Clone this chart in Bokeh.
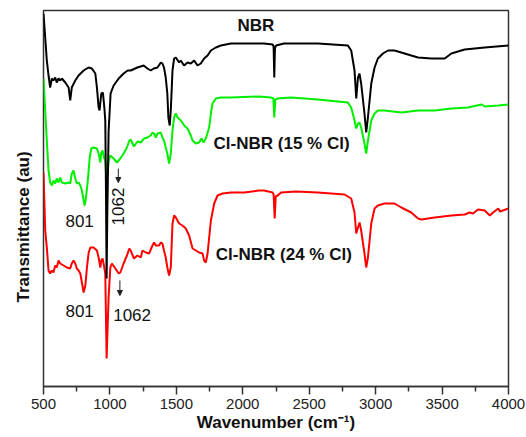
import math
from bokeh.plotting import figure
from bokeh.models import Range1d, FixedTicker, Label, Arrow, NormalHead, Title
from bokeh.embed import file_html
from bokeh.resources import INLINE

# ---- data (wavenumber in cm^-1, transmittance in arbitrary units) ----
nbr_wn = [500, 525, 538, 550, 563, 575, 588, 600, 613, 626, 638, 664, 689, 701, 713, 739, 764, 802, 839, 864,
          890, 902, 915, 922, 935, 947, 958, 965, 970, 975, 980, 990, 1005, 1028, 1066, 1103, 1134, 1156, 1207, 1254,
          1282, 1307, 1330, 1358, 1383, 1395, 1407, 1420, 1432, 1440, 1450, 1458, 1471, 1483, 1496, 1521, 1533, 1558,
          1584, 1609, 1634, 1659, 1684, 1709, 1735, 1760, 1797, 1835, 1911, 2037, 2160, 2225, 2232, 2237, 2242, 2250,
          2310, 2565, 2791, 2816, 2841, 2854, 2867, 2878, 2891, 2916, 2929, 2942, 2967, 2992, 3017, 3055, 3093, 3142,
          3193, 3268, 3319, 3419, 3520, 3570, 3670, 3821, 4000]
nbr_t = [373, 326, 311, 299, 308, 306, 309, 304, 308, 306, 308, 304, 299, 286, 299, 306, 311, 316, 319, 318,
         313, 299, 279, 276, 293, 294, 279, 266, 200, 108, 170, 255, 293, 301, 308, 313, 316, 316, 319, 321,
         318, 316, 318, 319, 324, 323, 319, 309, 293, 269, 261, 276, 316, 328, 329, 324, 326, 321,
         324, 323, 326, 321, 323, 328, 331, 336, 339, 341, 343, 343, 343, 342, 340, 309, 338, 341,
         343, 343, 341, 336, 316, 288, 309, 313, 303, 273, 254, 269, 303, 319, 328, 333, 336, 336,
         334, 331, 329, 328, 328, 333, 337, 339, 341]

cl15_wn = [500, 525, 538, 550, 563, 575, 588, 600, 613, 626, 638, 664, 689, 701, 713, 726, 739, 751, 764, 777,
           789, 802, 810, 820, 835, 848, 860, 877, 902, 915, 928, 935, 945, 955, 965, 975, 990, 1003, 1028, 1053,
           1078, 1103, 1128, 1146, 1156, 1181, 1207, 1232, 1257, 1282, 1307, 1320, 1332, 1345, 1358, 1383, 1395,
           1407, 1420, 1432, 1445, 1458, 1471, 1483, 1496, 1509, 1534, 1559, 1584, 1609, 1622, 1647, 1671, 1689,
           1705, 1722, 1747, 1760, 1772, 1797, 1835, 1911, 2122, 2212, 2230, 2237, 2245, 2263, 2363, 2565, 2791,
           2816, 2841, 2854, 2867, 2879, 2891, 2916, 2929, 2942, 2967, 2992, 3017, 3067, 3193, 3319, 3445, 3570,
           3696, 3797, 3822, 3923, 4000]
cl15_t = [308, 246, 216, 204, 201, 206, 203, 208, 204, 209, 204, 203, 204, 203, 213, 216, 208, 203, 204, 201,
          196, 186, 181, 189, 208, 229, 238, 239, 238, 233, 224, 234, 236, 229, 226, 205, 225, 231, 228, 224,
          228, 233, 239, 246, 247, 240, 245, 244, 248, 249, 251, 254, 253, 249, 253, 254, 249,
          246, 239, 233, 223, 233, 256, 269, 273, 269, 266, 261, 258, 251, 246, 243, 244, 248,
          244, 248, 259, 273, 283, 288, 289, 289, 290, 289, 288, 269, 287, 288, 289, 287, 284,
          279, 266, 258, 263, 264, 259, 243, 233, 246, 266, 273, 276, 276, 274, 276, 276, 278,
          279, 282, 280, 281, 282]

cl24_wn = [500, 513, 525, 538, 550, 563, 575, 588, 600, 613, 626, 651, 676, 701, 713, 726, 739, 751, 764, 777,
           789, 802, 815, 827, 840, 853, 877, 902, 915, 928, 935, 945, 955, 965, 975, 990, 1003, 1015, 1041, 1066,
           1078, 1103, 1128, 1146, 1156, 1181, 1207, 1232, 1245, 1270, 1295, 1320, 1332, 1345, 1370, 1383, 1395,
           1407, 1420, 1432, 1445, 1458, 1471, 1483, 1496, 1521, 1546, 1571, 1596, 1622, 1647, 1671, 1697, 1709,
           1722, 1735, 1747, 1760, 1785, 1810, 1848, 1911, 2011, 2122, 2160, 2225, 2232, 2240, 2248, 2263, 2288,
           2401, 2565, 2766, 2816, 2841, 2854, 2867, 2879, 2891, 2916, 2929, 2942, 2967, 2992, 3017, 3067, 3142,
           3193, 3268, 3319, 3344, 3445, 3570, 3670, 3708, 3733, 3771, 3821, 3859, 3884, 3923, 3935, 4000]
cl24_t = [214, 156, 139, 116, 113, 116, 114, 121, 119, 126, 123, 121, 119, 118, 123, 126, 123, 118, 116, 113,
          104, 94, 101, 119, 134, 139, 139, 136, 129, 119, 126, 128, 121, 113, 28, 89, 119, 123, 118, 113,
          114, 123, 131, 138, 136, 128, 131, 129, 136, 134, 133, 141, 144, 141, 141, 144, 143,
          136, 129, 119, 111, 119, 163, 171, 169, 163, 161, 158, 151, 138, 136, 134, 133, 126,
          124, 133, 149, 166, 183, 191, 193, 194, 194, 196, 196, 194, 192, 168, 190, 191, 194,
          195, 194, 192, 188, 174, 153, 159, 164, 156, 133, 119, 129, 163, 178, 181, 183, 183,
          179, 174, 168, 167, 169, 171, 172, 174, 173, 177, 176, 171, 174, 178, 175, 178]

x_ticks = [500, 1000, 1500, 2000, 2500, 3000, 3500, 4000]
x_minor = [750, 1250, 1750, 2250, 2750, 3250, 3750]

FONT = "Liberation Sans"

p = figure(width=526, height=437, output_backend="svg", toolbar_location=None,
           x_range=Range1d(500, 4000), y_range=Range1d(0, 376), y_axis_location=None,
           min_border_left=43, min_border_right=18, min_border_top=10, min_border_bottom=51)
p.background_fill_color = "white"
p.border_fill_color = "white"
p.xgrid.visible = False
p.ygrid.visible = False
p.outline_line_color = "#333333"
p.outline_line_width = 1.5
p.outline_line_alpha = 1.0

ax = p.xaxis[0]
ax.ticker = FixedTicker(ticks=x_ticks, minor_ticks=x_minor)
ax.axis_line_color = "#333333"
ax.axis_line_width = 1.5
ax.major_tick_line_color = "#333333"
ax.major_tick_line_width = 1.5
ax.minor_tick_line_color = "#333333"
ax.minor_tick_line_width = 1.5
ax.major_tick_in = 0
ax.major_tick_out = 8
ax.minor_tick_in = 0
ax.minor_tick_out = 5
ax.major_label_text_font = FONT
ax.major_label_text_font_size = "15px"
ax.major_label_text_color = "#222222"
ax.major_label_standoff = 4
ax.axis_label = "Wavenumber (cm\u207b\u00b9)"
ax.axis_label_text_font = FONT
ax.axis_label_text_font_size = "17px"
ax.axis_label_text_font_style = "bold"
ax.axis_label_text_color = "#111111"
ax.axis_label_standoff = 1

# y axis title on the left side, starting a bit above the frame bottom like the original
p.add_layout(Title(text="Transmittance (au)", align="left", offset=84, standoff=22,
                   text_font=FONT, text_font_size="17px", text_font_style="bold",
                   text_color="#111111"), "left")

p.line(cl24_wn, cl24_t, line_color="#ff0000", line_width=2)
p.line(cl15_wn, cl15_t, line_color="#00ee00", line_width=2)
p.line(nbr_wn, nbr_t, line_color="#000000", line_width=2)

def lab(x, y, text, size="17px", bold=True, align="left", angle=0.0, **kw):
    p.add_layout(Label(x=x, y=y, text=text, text_font=FONT, text_font_size=size,
                       text_font_style="bold" if bold else "normal", text_color="#111111",
                       text_align=align, text_baseline="middle", angle=angle, **kw))

lab(2099, 361, "NBR", align="center")
lab(1780, 243, "Cl-NBR (15 % Cl)")
lab(1797, 132, "Cl-NBR (24 % Cl)")
lab(772, 166, "801", size="17px", bold=False, align="center")
lab(772, 76, "801", size="17px", bold=False, align="center")
lab(1062, 180, "1062", size="17px", bold=False, align="center", angle=math.pi / 2)
lab(1167, 72, "1062", size="17px", bold=False, align="center")

for xa, y0, y1 in [(1063, 218, 204), (1075, 106, 91)]:
    p.add_layout(Arrow(end=NormalHead(size=5, fill_color="#222222", line_color="#222222"),
                       x_start=xa, y_start=y0, x_end=xa, y_end=y1,
                       line_color="#222222", line_width=1))

open("out.html", "w").write(file_html(p, INLINE))
